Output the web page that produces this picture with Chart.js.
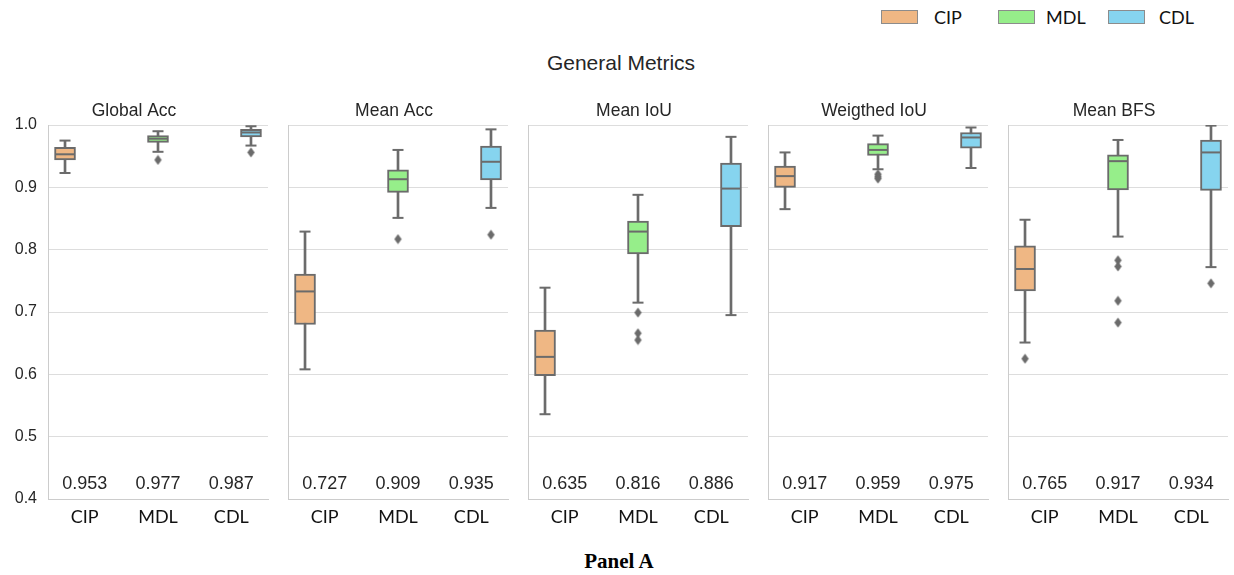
<!DOCTYPE html>
<html>
<head>
<meta charset="utf-8">
<script src="https://cdn.jsdelivr.net/npm/chart.js@4"></script>
<style>
  html, body { margin: 0; padding: 0; background: #ffffff; }
  body { width: 1234px; height: 575px; position: relative; overflow: hidden; }
  canvas { position: absolute; }
  .txt { position: absolute; white-space: nowrap; color: #262626; }
  .lg-box { position: absolute; width: 35px; height: 12px; border: 1px solid #8c8c8c; }
</style>
</head>
<body>
<div class="txt" style="left:621px; top:63px; transform:translate(-50%,-50%); font:21px 'Liberation Sans', Arial, sans-serif;">General Metrics</div>
<div class="txt" style="left:619px; top:561px; transform:translate(-50%,-50%); font:bold 21px 'Liberation Serif', 'Times New Roman', serif; color:#000;">Panel A</div>
<div id="legend"></div>

<script>
// ---- data ----
const categories = ['CIP', 'MDL', 'CDL'];
const metrics = ['Global Acc', 'Mean Acc', 'Mean IoU', 'Weigthed IoU', 'Mean BFS'];
const yTicks = [0.4, 0.5, 0.6, 0.7, 0.8, 0.9, 1.0];

// per metric: [CIP, MDL, CDL]
const whiskerLow = [
  [0.923, 0.957, 0.967],
  [0.608, 0.851, 0.867],
  [0.536, 0.715, 0.695],
  [0.865, 0.929, 0.931],
  [0.651, 0.821, 0.772]
];
const q1 = [
  [0.944, 0.972, 0.981],
  [0.680, 0.892, 0.912],
  [0.598, 0.793, 0.837],
  [0.900, 0.951, 0.963],
  [0.734, 0.896, 0.895]
];
const median = [
  [0.953, 0.978, 0.988],
  [0.733, 0.913, 0.941],
  [0.628, 0.829, 0.898],
  [0.918, 0.960, 0.980],
  [0.769, 0.942, 0.956]
];
const q3 = [
  [0.964, 0.983, 0.993],
  [0.761, 0.928, 0.966],
  [0.671, 0.846, 0.939],
  [0.934, 0.970, 0.988],
  [0.806, 0.952, 0.976]
];
const whiskerHigh = [
  [0.975, 0.990, 0.998],
  [0.829, 0.960, 0.993],
  [0.739, 0.888, 0.981],
  [0.956, 0.983, 0.996],
  [0.848, 0.976, 0.999]
];
const outliers = [
  [[], [0.944], [0.956]],
  [[], [0.817], [0.824]],
  [[], [0.699, 0.666, 0.655], []],
  [[], [0.921, 0.917, 0.914], []],
  [[0.625], [0.783, 0.773, 0.718, 0.683], [0.746]]
];
const means = [
  ['0.953', '0.977', '0.987'],
  ['0.727', '0.909', '0.935'],
  ['0.635', '0.816', '0.886'],
  ['0.917', '0.959', '0.975'],
  ['0.765', '0.917', '0.934']
];

// ---- styles ----
const fillColors = ['#EFB784', '#96EE8A', '#86D4EF'];
const lineColor = '#6b6b6b';
const gridColor = '#dddddd';
const spineColor = '#cccccc';
const textColor = '#262626';

// thin diamond marker (seaborn 'd')
const diamond = document.createElement('canvas');
diamond.width = 9; diamond.height = 11;
(function () {
  const c = diamond.getContext('2d');
  c.fillStyle = lineColor;
  c.beginPath();
  c.moveTo(4.5, 0.5); c.lineTo(8.2, 5.5); c.lineTo(4.5, 10.5); c.lineTo(0.8, 5.5);
  c.closePath(); c.fill();
})();

// legend (HTML)
const legendPos = [[881, 934], [998, 1046], [1108, 1159]];
const legendEl = document.getElementById('legend');
categories.forEach((c, i) => {
  const b = document.createElement('div');
  b.className = 'lg-box';
  b.style.left = legendPos[i][0] + 'px';
  b.style.top = '10px';
  b.style.background = fillColors[i];
  legendEl.appendChild(b);
  const t = document.createElement('div');
  t.className = 'txt';
  t.textContent = c;
  t.style.left = legendPos[i][1] + 'px';
  t.style.top = '17px';
  t.style.transform = 'translateY(-50%)';
  t.style.font = "18px Lato, 'Open Sans', sans-serif";
  t.style.color = '#111';
  legendEl.appendChild(t);
});

// mean labels plugin
const meanLabels = {
  id: 'meanLabels',
  afterDatasetsDraw(chart, args, opts) {
    const xc = chart.scales.xc;
    const ctx = chart.ctx;
    ctx.save();
    ctx.font = "18px 'Liberation Sans', Arial, sans-serif";
    ctx.fillStyle = textColor;
    ctx.textAlign = 'center';
    ctx.textBaseline = 'middle';
    opts.labels.forEach((t, i) => {
      ctx.fillText(t, xc.getPixelForValue(i), chart.chartArea.bottom - 15);
    });
    ctx.restore();
  }
};

const panelLeft0 = 48, panelStep = 240, panelW = 220;
const canvasTop = 90, canvasH = 449;

metrics.forEach((m, mi) => {
  const first = mi === 0;
  const pl = panelLeft0 + panelStep * mi;
  const yW = first ? 48 : 8;
  const cLeft = pl - yW;
  const cW = yW + panelW + 2;
  const cv = document.createElement('canvas');
  cv.width = cW; cv.height = canvasH;
  cv.style.left = cLeft + 'px';
  cv.style.top = canvasTop + 'px';
  cv.style.width = cW + 'px';
  cv.style.height = canvasH + 'px';
  document.body.appendChild(cv);

  const idx = [0, 1, 2];
  const whiskers = idx.map(i => ({ x: i, y: [whiskerLow[mi][i], whiskerHigh[mi][i]] }));
  const boxes = idx.map(i => ({ x: i, y: [q1[mi][i], q3[mi][i]] }));
  const meds = idx.map(i => ({ x: i, y: median[mi][i] }));
  const caps = [];
  idx.forEach(i => { caps.push({ x: i, y: whiskerLow[mi][i] }); caps.push({ x: i, y: whiskerHigh[mi][i] }); });
  const outs = [];
  idx.forEach(i => outliers[mi][i].forEach(v => outs.push({ x: i, y: v })));

  new Chart(cv, {
    type: 'bar',
    data: {
      labels: categories,
      datasets: [
        { type: 'bar', data: whiskers, backgroundColor: lineColor, borderWidth: 0,
          barThickness: 2, grouped: false, order: 5, xAxisID: 'x', yAxisID: 'y' },
        { type: 'bar', data: boxes, backgroundColor: fillColors, borderColor: lineColor,
          borderWidth: 2, borderSkipped: false, barThickness: 21, grouped: false, order: 4,
          xAxisID: 'x', yAxisID: 'y' },
        { type: 'scatter', data: meds, pointStyle: 'line', pointRadius: 10, borderColor: lineColor,
          borderWidth: 2, order: 2, xAxisID: 'x', yAxisID: 'y' },
        { type: 'scatter', data: caps, pointStyle: 'line', pointRadius: 5.5, borderColor: lineColor,
          borderWidth: 2, order: 2, xAxisID: 'x', yAxisID: 'y' },
        { type: 'scatter', data: outs, pointStyle: diamond, pointRadius: 5, order: 1,
          xAxisID: 'x', yAxisID: 'y' }
      ]
    },
    options: {
      responsive: false,
      animation: false,
      events: [],
      layout: { autoPadding: false, padding: { left: 0, right: 2, top: 0, bottom: 0 } },
      plugins: {
        legend: { display: false },
        tooltip: { enabled: false },
        title: {
          display: true, text: m, color: textColor,
          font: { family: "'Liberation Sans', Arial, sans-serif", size: 17.5, weight: 'normal' },
          padding: { top: 11, bottom: 3 }
        },
        meanLabels: { labels: means[mi] }
      },
      scales: {
        x: { type: 'linear', display: false, min: -0.183, max: 2.183, offset: false },
        xc: {
          type: 'category', position: 'bottom', labels: categories, offset: true,
          grid: { display: false, drawTicks: false },
          border: { display: true, color: spineColor, width: 1 },
          ticks: { color: '#111', padding: 7, font: { family: "Lato, 'Open Sans', sans-serif", size: 18 } },
          afterFit: s => { s.height = 40; }
        },
        y: {
          type: 'linear', min: 0.4, max: 1.0,
          afterBuildTicks: s => { s.ticks = yTicks.map(v => ({ value: v })); },
          grid: { color: gridColor, lineWidth: 1, drawTicks: false },
          border: { display: true, color: spineColor, width: 1 },
          ticks: {
            display: first, padding: 11, color: textColor,
            font: { family: "'Liberation Sans', Arial, sans-serif", size: 16 },
            callback: v => Number(v).toFixed(1)
          },
          afterFit: s => { s.width = yW; }
        }
      }
    },
    plugins: [meanLabels]
  });
});
</script>
</body>
</html>
